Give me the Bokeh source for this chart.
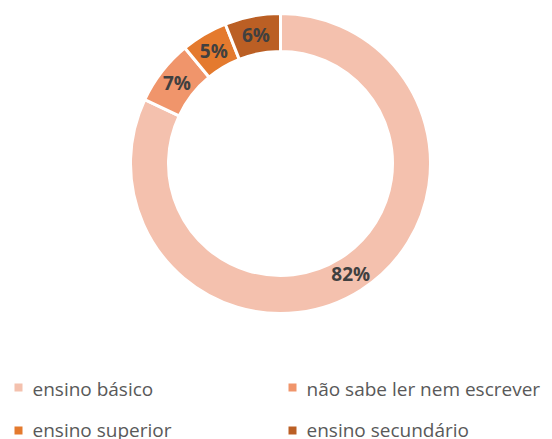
import math
from bokeh.plotting import figure
from bokeh.models import ColumnDataSource
from bokeh.core.properties import value
from bokeh.embed import file_html
from bokeh.resources import INLINE

categories = ["ensino básico", "não sabe ler nem escrever", "ensino superior", "ensino secundário"]
shares = [82, 7, 5, 6]
labels = ["82%", "7%", "5%", "6%"]
colors = ["#F4C1AE", "#F0956B", "#E47A2E", "#BB5F24"]

W, H = 552, 439
p = figure(width=W, height=H, x_range=(0, W), y_range=(0, H),
           output_backend="svg", toolbar_location=None, min_border=0)
p.axis.visible = False
p.grid.visible = False
p.outline_line_color = None
p.background_fill_color = "white"

cx, cy = 280, H - 163
r_out, r_in = 150, 112
total = sum(shares)
starts, ends, lx, ly = [], [], [], []
cum = 0
for s in shares:
    a0 = math.pi / 2 - 2 * math.pi * cum / total
    a1 = math.pi / 2 - 2 * math.pi * (cum + s) / total
    starts.append(a0)
    ends.append(a1)
    mid = (a0 + a1) / 2
    rm = (r_out + r_in) / 2
    lx.append(cx + rm * math.cos(mid))
    ly.append(cy + rm * math.sin(mid))
    cum += s

src = ColumnDataSource(dict(start=starts, end=ends, color=colors, lx=lx, ly=ly, label=labels))
p.annular_wedge(x=cx, y=cy, inner_radius=r_in, outer_radius=r_out,
                start_angle="start", end_angle="end", direction="clock",
                fill_color="color", line_color="white", line_width=3, source=src)
p.text(x="lx", y="ly", text="label", source=src, text_align="center", text_baseline="middle",
       text_font=value("Open Sans"), text_font_style="bold", text_font_size="19px", text_color="#404040")

# legend
leg_x = [18, 292, 18, 292]
leg_y = [H - 387, H - 387, H - 430, H - 430]
text_y = [H - 388, H - 388, H - 429, H - 429]
lsrc = ColumnDataSource(dict(x=leg_x, y=leg_y, ty=text_y, tx=[x + 14 for x in leg_x],
                             name=categories, color=colors))
p.scatter(x="x", y="y", marker="square", size=8, fill_color="color", line_color=None, source=lsrc)
p.text(x="tx", y="ty", text="name", source=lsrc, text_align="left", text_baseline="middle",
       text_font=value("Open Sans"), text_font_size="19px", text_color="#595959")

open("out.html", "w").write(file_html(p, INLINE))
